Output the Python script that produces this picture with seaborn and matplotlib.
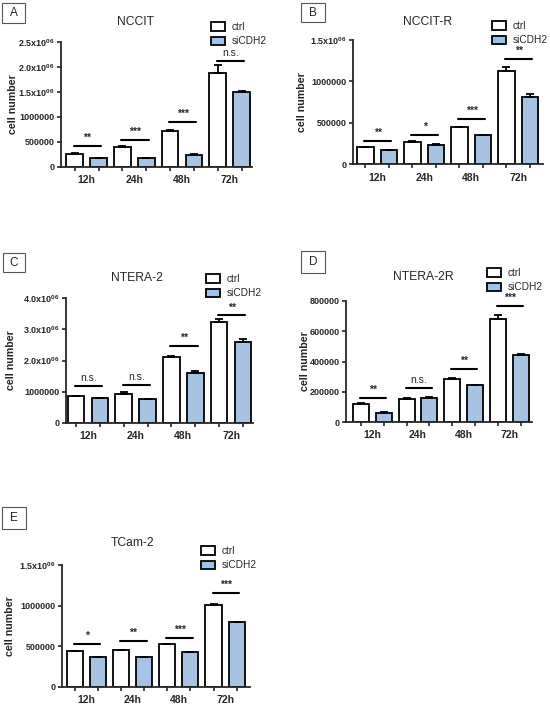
import matplotlib
matplotlib.use('Agg')
import matplotlib.pyplot as plt
import matplotlib.patches as mpatches
import pandas as pd
import seaborn as sns

times = ['12h', '24h', '48h', '72h']
groups = ['ctrl', 'siCDH2']

# A - NCCIT
nccit_ctrl = [267000, 400000, 725000, 1870000]
nccit_ctrl_err = [5000, 10000, 5000, 160000]
nccit_si = [180000, 182000, 247000, 1500000]
nccit_si_err = [5000, 5000, 5000, 25000]
nccit_sig = ['**', '***', '***', 'n.s.']
nccit_sig_y = [413000, 533000, 900000, 2110000]

# B - NCCIT-R
nccitr_ctrl = [208000, 265000, 445000, 1130000]
nccitr_ctrl_err = [3000, 12000, 8000, 50000]
nccitr_si = [172000, 237000, 349000, 814000]
nccitr_si_err = [3000, 4000, 4000, 38000]
nccitr_sig = ['**', '*', '***', '**']
nccitr_sig_y = [281000, 349000, 549000, 1270000]

# C - NTERA-2
ntera_ctrl = [860000, 920000, 2120000, 3230000]
ntera_ctrl_err = [20000, 65000, 10000, 85000]
ntera_si = [790000, 760000, 1600000, 2580000]
ntera_si_err = [10000, 10000, 55000, 95000]
ntera_sig = ['n.s.', 'n.s.', '**', '**']
ntera_sig_y = [1180000, 1230000, 2470000, 3440000]

# D - NTERA-2R
nterar_ctrl = [117000, 154000, 282000, 679000]
nterar_ctrl_err = [8000, 3000, 12000, 26000]
nterar_si = [60000, 161000, 242000, 445000]
nterar_si_err = [6000, 3000, 3000, 7000]
nterar_sig = ['**', 'n.s.', '**', '***']
nterar_sig_y = [161000, 225000, 353000, 765000]

# E - TCam-2
tcam_ctrl = [443000, 455000, 524000, 1010000]
tcam_ctrl_err = [4000, 4000, 4000, 12000]
tcam_si = [363000, 370000, 427000, 795000]
tcam_si_err = [12000, 5000, 5000, 10000]
tcam_sig = ['*', '**', '***', '***']
tcam_sig_y = [532000, 565000, 605000, 1160000]

sup = r'$^{06}$'
yticks_a = [0, 500000, 1000000, 1500000, 2000000, 2500000]
yticklabels_a = ['0', '500000', '1000000', '1.5x10' + sup, '2.0x10' + sup, '2.5x10' + sup]
yticks_b = [0, 500000, 1000000, 1500000]
yticklabels_b = ['0', '500000', '1000000', '1.5x10' + sup]
yticks_c = [0, 1000000, 2000000, 3000000, 4000000]
yticklabels_c = ['0', '1000000', '2.0x10' + sup, '3.0x10' + sup, '4.0x10' + sup]
yticks_d = [0, 200000, 400000, 600000, 800000]
yticklabels_d = ['0', '200000', '400000', '600000', '800000']
yticks_e = [0, 500000, 1000000, 1500000]
yticklabels_e = ['0', '500000', '1000000', '1.5x10' + sup]

panels = [
    dict(letter='A', title='NCCIT', ctrl=nccit_ctrl, ctrl_err=nccit_ctrl_err, si=nccit_si,
         si_err=nccit_si_err, sig=nccit_sig, sig_y=nccit_sig_y, yticks=yticks_a,
         ylabels=yticklabels_a, ymax=2500000,
         rect=(61, 41.7, 252, 167), xlim=(-0.54, 3.47), title_xy=(135, 22),
         leg_xy=(211, 22), box=(2, 3, 25, 23), ylab_x=18),
    dict(letter='B', title='NCCIT-R', ctrl=nccitr_ctrl, ctrl_err=nccitr_ctrl_err, si=nccitr_si,
         si_err=nccitr_si_err, sig=nccitr_sig, sig_y=nccitr_sig_y, yticks=yticks_b,
         ylabels=yticklabels_b, ymax=1500000,
         rect=(352.7, 40, 543, 164.3), xlim=(-0.52, 3.53), title_xy=(428, 22),
         leg_xy=(492, 21), box=(301, 3, 325, 22), ylab_x=307),
    dict(letter='C', title='NTERA-2', ctrl=ntera_ctrl, ctrl_err=ntera_ctrl_err, si=ntera_si,
         si_err=ntera_si_err, sig=ntera_sig, sig_y=ntera_sig_y, yticks=yticks_c,
         ylabels=yticklabels_c, ymax=4000000,
         rect=(66, 298, 253, 423), xlim=(-0.46, 3.46), title_xy=(137, 278),
         leg_xy=(206, 274), box=(3, 253, 25, 272), ylab_x=16),
    dict(letter='D', title='NTERA-2R', ctrl=nterar_ctrl, ctrl_err=nterar_ctrl_err, si=nterar_si,
         si_err=nterar_si_err, sig=nterar_sig, sig_y=nterar_sig_y, yticks=yticks_d,
         ylabels=yticklabels_d, ymax=800000,
         rect=(346, 301, 532, 422), xlim=(-0.58, 3.5), title_xy=(423, 277),
         leg_xy=(487, 268), box=(301, 251, 325, 273), ylab_x=310),
    dict(letter='E', title='TCam-2', ctrl=tcam_ctrl, ctrl_err=tcam_ctrl_err, si=tcam_si,
         si_err=tcam_si_err, sig=tcam_sig, sig_y=tcam_sig_y, yticks=yticks_e,
         ylabels=yticklabels_e, ymax=1500000,
         rect=(62, 565, 250, 687), xlim=(-0.53, 3.54), title_xy=(133, 543),
         leg_xy=(201, 546), box=(2, 507, 26, 529), ylab_x=15),
]

W, H = 550, 705
blue = '#9cc3ee'
palette = {'ctrl': 'white', 'siCDH2': blue}

sns.set_style('ticks')
plt.rcParams['font.family'] = ['Liberation Sans', 'DejaVu Sans']
plt.rcParams['mathtext.fontset'] = 'custom'
plt.rcParams['mathtext.rm'] = 'Liberation Sans:bold'
plt.rcParams['mathtext.it'] = 'Liberation Sans:bold'

fig = plt.figure(figsize=(W / 100, H / 100), dpi=100)

for p in panels:
    l, t, r, b = p['rect']
    ax = fig.add_axes([l / W, 1 - b / H, (r - l) / W, (b - t) / H])

    df = pd.DataFrame({
        'time': times * 2,
        'group': ['ctrl'] * 4 + ['siCDH2'] * 4,
        'value': p['ctrl'] + p['si'],
    })
    sns.barplot(data=df, x='time', y='value', hue='group', hue_order=groups,
                palette=palette, errorbar=None, width=1.0, gap=0.3,
                edgecolor='black', linewidth=1.3, legend=False, ax=ax)

    # upper-only error bars like GraphPad
    centers = []
    for cont, errs in zip(ax.containers, [p['ctrl_err'], p['si_err']]):
        xs = [bar.get_x() + bar.get_width() / 2 for bar in cont]
        ys = [bar.get_height() for bar in cont]
        centers.extend(xs)
        ax.errorbar(xs, ys, yerr=[[0] * len(errs), errs], fmt='none', ecolor='black',
                    elinewidth=1.3, capsize=3, capthick=1.3, zorder=1)

    # significance lines
    for i, (lab, y) in enumerate(zip(p['sig'], p['sig_y'])):
        ax.plot([i - 0.27, i + 0.3], [y, y], color='black', lw=1.5, clip_on=False)
        ax.annotate(lab, (i + 0.015, y), xytext=(0, 2.2), textcoords='offset points',
                    ha='center', va='bottom', fontsize=7.5,
                    fontweight='bold' if '*' in lab else 'normal', annotation_clip=False)

    ax.set_xlim(*p['xlim'])
    ax.set_ylim(0, p['ymax'])
    ax.set_yticks(p['yticks'])
    ax.set_yticklabels(p['ylabels'], fontsize=6.5, fontweight='bold')
    ax.set_xticks(range(4))
    ax.set_xticklabels(times, fontsize=7.5, fontweight='bold')
    ax.set_xticks(centers, minor=True)
    ax.tick_params(axis='x', which='major', length=0, pad=6)
    ax.tick_params(axis='x', which='minor', length=3, width=1.2)
    ax.tick_params(axis='y', length=3, width=1.2, pad=1.5)
    ax.set_xlabel('')
    ax.set_ylabel('cell number', fontsize=7.7, fontweight='bold')
    ax.yaxis.set_label_coords((p['ylab_x'] - l) / (r - l), 0.5)
    for s in ['left', 'bottom']:
        ax.spines[s].set_linewidth(1.3)
    sns.despine(ax=ax)

    # title
    fig.text(p['title_xy'][0] / W, 1 - p['title_xy'][1] / H, p['title'],
             ha='center', va='center', fontsize=8.7)

    # legend
    handles = [mpatches.Patch(facecolor=palette[g], edgecolor='black', linewidth=1.3, label=g)
               for g in groups]
    fig.legend(handles=handles, loc='upper left',
               bbox_to_anchor=(p['leg_xy'][0] / W, 1 - p['leg_xy'][1] / H),
               frameon=False, fontsize=7.3, handlelength=1.4, handleheight=0.85,
               handletextpad=0.6, labelspacing=0.4, borderpad=0, borderaxespad=0)

    # panel letter box
    bx0, by0, bx1, by1 = p['box']
    fig.patches.append(mpatches.Rectangle((bx0 / W, 1 - by1 / H), (bx1 - bx0) / W,
                                          (by1 - by0) / H, transform=fig.transFigure,
                                          facecolor='white', edgecolor='#555555', lw=0.8))
    fig.text((bx0 + bx1) / 2 / W, 1 - (by0 + by1) / 2 / H, p['letter'],
             ha='center', va='center', fontsize=8.5)

fig.savefig('out.png', dpi=100)
